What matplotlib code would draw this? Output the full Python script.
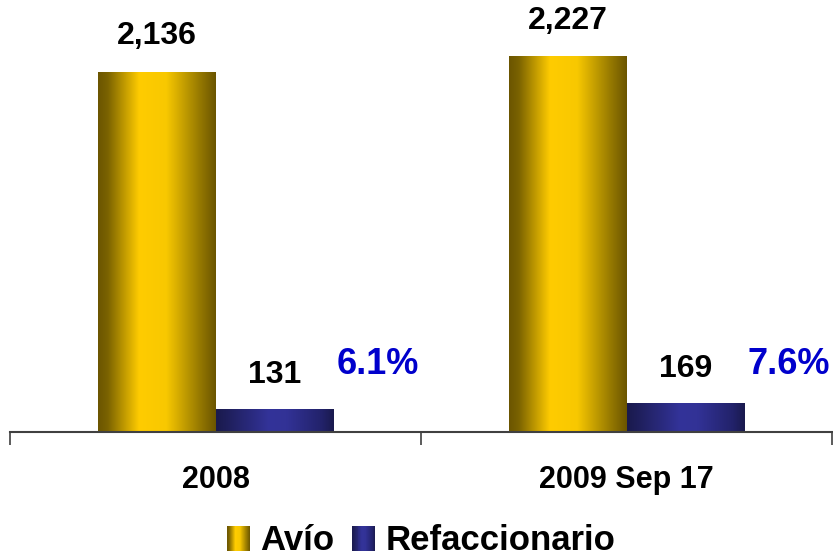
import numpy as np
import matplotlib
matplotlib.use("Agg")
import matplotlib.pyplot as plt
from matplotlib.colors import LinearSegmentedColormap
from matplotlib.patches import Rectangle
from matplotlib.legend_handler import HandlerBase

plt.rcParams['font.family'] = ['Liberation Sans', 'DejaVu Sans']
plt.rcParams['font.weight'] = 'bold'

# data
categories = ['2008', '2009 Sep 17']
avio = [2136, 2227]
refaccionario = [131, 169]
series_names = ['Avío', 'Refaccionario']

gold_cmap = LinearSegmentedColormap.from_list('gold', [
    (0.0, '#6b5500'), (0.08, '#7a6200'), (0.35, '#ffcc00'),
    (0.58, '#f8c800'), (0.86, '#977a00'), (1.0, '#6b5500')])
navy_cmap = LinearSegmentedColormap.from_list('navy', [
    (0.0, '#1a1a4d'), (0.1, '#1f1f5c'), (0.45, '#333399'),
    (0.6, '#323296'), (0.9, '#22226a'), (1.0, '#1a1a4d')])


class GradientHandler(HandlerBase):
    def __init__(self, cmap, n=24):
        super().__init__()
        self.cmap = cmap
        self.n = n

    def create_artists(self, legend, orig_handle, xdescent, ydescent,
                       width, height, fontsize, trans):
        arts = []
        w = width / self.n
        for k in range(self.n):
            r = Rectangle((-xdescent + k * w, -ydescent), w * 1.05, height,
                          facecolor=self.cmap((k + 0.5) / self.n),
                          edgecolor='none', transform=trans)
            arts.append(r)
        return arts


fig = plt.figure(figsize=(8.33, 5.57), dpi=100)
ax = fig.add_axes([10 / 833, 125 / 557, 822 / 833, 0.7564])

x = np.arange(len(categories))
bw = 0.287
grad = np.linspace(0, 1, 256).reshape(1, -1)

bars_a = ax.bar(x - bw / 2, avio, bw, color='none', edgecolor='none')
bars_r = ax.bar(x + bw / 2, refaccionario, bw, color='none', edgecolor='none')

for bars, cmap in [(bars_a, gold_cmap), (bars_r, navy_cmap)]:
    for b in bars:
        x0 = b.get_x()
        ax.imshow(grad, cmap=cmap, aspect='auto', interpolation='bilinear',
                  extent=[x0, x0 + b.get_width(), 0, b.get_height()], zorder=2)

ax.bar_label(bars_a, labels=[f'{v:,}' for v in avio], padding=15,
             fontsize=23, fontweight='bold')
ax.bar_label(bars_r, labels=[f'{v:,}' for v in refaccionario], padding=14,
             fontsize=23, fontweight='bold')

for i in range(len(categories)):
    pct = refaccionario[i] / avio[i] * 100
    ax.text(x[i] + 0.394, 402, f'{pct:.1f}%', color='#0000cc', fontsize=26,
            fontweight='bold', ha='center', va='center')

ax.set_xlim(-0.5, 1.5)
ax.set_ylim(0, 2500)
ax.set_xticks(x)
ax.set_xticklabels(categories, fontsize=22, fontweight='bold')
ax.set_xticks([-0.5, 0.5, 1.5], minor=True)
ax.tick_params(axis='x', which='major', length=0, pad=24)
ax.tick_params(axis='x', which='minor', length=9, width=1.2, color='#404040',
               direction='out')
ax.set_yticks([])
for s in ['left', 'top', 'right']:
    ax.spines[s].set_visible(False)
ax.spines['bottom'].set_color('#404040')
ax.spines['bottom'].set_linewidth(1.5)
ax.patch.set_visible(False)

h1 = Rectangle((0, 0), 1, 1)
h2 = Rectangle((0, 0), 1, 1)
fig.legend([h1, h2], series_names, loc='center',
           bbox_to_anchor=(421 / 833, 1 - 541 / 557), ncol=2, frameon=False,
           prop={'size': 25, 'weight': 'bold'},
           handler_map={h1: GradientHandler(gold_cmap), h2: GradientHandler(navy_cmap)},
           handlelength=0.66, handleheight=0.72, handletextpad=0.3,
           columnspacing=0.5, borderaxespad=0, borderpad=0)

fig.savefig('out.png', dpi=100)
